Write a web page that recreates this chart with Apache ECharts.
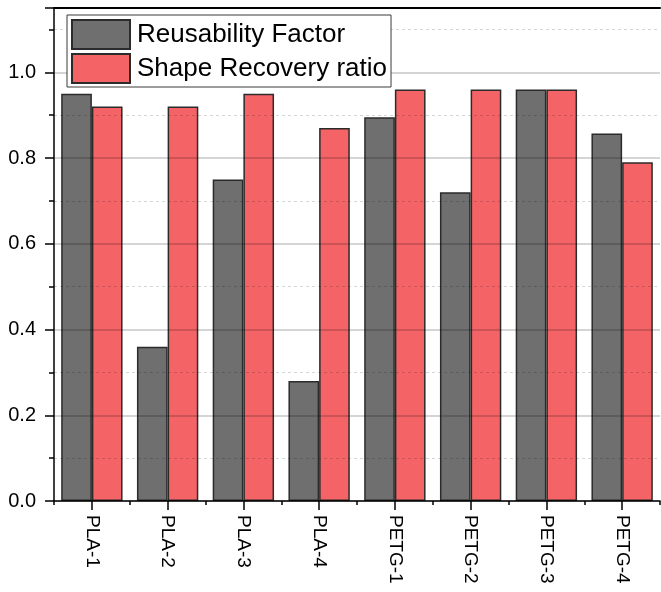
<!DOCTYPE html>
<html>
<head>
<meta charset="utf-8">
<title>Reusability Factor and Shape Recovery ratio</title>
<script src="https://cdn.jsdelivr.net/npm/echarts@6/dist/echarts.min.js"></script>
<style>
  html, body { margin: 0; padding: 0; background: #fff; }
  #chart { width: 661px; height: 592px; }
</style>
</head>
<body>
<div id="chart"></div>
<script>
// Samples and measured ratios
const categories = ['PLA-1', 'PLA-2', 'PLA-3', 'PLA-4', 'PETG-1', 'PETG-2', 'PETG-3', 'PETG-4'];
const reusabilityFactor = [0.95, 0.36, 0.75, 0.28, 0.895, 0.72, 0.96, 0.857];
const shapeRecoveryRatio = [0.92, 0.92, 0.95, 0.87, 0.96, 0.96, 0.96, 0.79];
const seriesNames = ['Reusability Factor', 'Shape Recovery ratio'];
const yMin = 0, yMax = 1.15, yMajor = 0.2, yMinor = 0.1;

const FONT = '"Liberation Sans", Arial, sans-serif';
const chart = echarts.init(document.getElementById('chart'), null, { renderer: 'canvas' });

const barBorder = { borderColor: '#2b2b2b', borderWidth: 1.5 };

chart.setOption({
  animation: false,
  backgroundColor: '#ffffff',
  grid: { left: 54, right: 1, top: 8, bottom: 91, containLabel: false },
  legend: {
    orient: 'vertical',
    left: 67,
    top: 15,
    icon: 'rect',
    itemWidth: 58,
    itemHeight: 29,
    itemGap: 3,
    padding: [4, 4, 3, 4],
    backgroundColor: '#ffffff',
    borderColor: '#3a3a3a',
    borderWidth: 1,
    z: 10,
    textStyle: { fontFamily: FONT, fontSize: 26, lineHeight: 29, color: '#000', padding: [0, 0, 0, 2] },
    data: seriesNames
  },
  xAxis: [
    {
      type: 'category',
      position: 'bottom',
      data: categories,
      boundaryGap: true,
      axisLine: { show: true, lineStyle: { color: '#000', width: 1.5 } },
      axisTick: { show: true, alignWithLabel: true, length: 9, lineStyle: { color: '#000', width: 1.5 } },
      axisLabel: {
        rotate: -90,
        margin: 14,
        fontFamily: FONT,
        fontSize: 19,
        color: '#000'
      },
      splitLine: { show: false },
      z: 3
    },
    {
      // short ticks on the category boundaries
      type: 'category',
      position: 'bottom',
      data: categories,
      boundaryGap: true,
      axisLine: { show: false },
      axisTick: { show: true, length: 4, lineStyle: { color: '#000', width: 1.5 } },
      axisLabel: { show: false },
      splitLine: { show: false },
      z: 3
    },
    {
      // top frame line
      type: 'category',
      position: 'top',
      data: categories,
      axisLine: { show: true, lineStyle: { color: '#000', width: 2 } },
      axisTick: { show: false },
      axisLabel: { show: false },
      splitLine: { show: false },
      z: 3
    }
  ],
  yAxis: [
    {
      // major ticks, labels and solid grid lines
      type: 'value',
      position: 'left',
      min: yMin,
      max: yMax,
      interval: yMajor,
      axisLine: { show: true, lineStyle: { color: '#000', width: 1.5 } },
      axisTick: { show: true, length: 9, lineStyle: { color: '#000', width: 1.5 } },
      axisLabel: {
        margin: 18,
        fontFamily: FONT,
        fontSize: 20,
        color: '#000',
        formatter: v => (v <= 1.0001 ? v.toFixed(1) : '')
      },
      splitLine: { show: true, lineStyle: { color: 'rgba(0,0,0,0.22)', width: 1.5, type: 'solid' } },
      z: 3
    },
    {
      // minor ticks and dashed grid lines in between
      type: 'value',
      position: 'left',
      min: yMin,
      max: yMax,
      interval: yMinor,
      axisLine: { show: false },
      axisTick: { show: true, length: 5, lineStyle: { color: '#000', width: 1.5 } },
      axisLabel: { show: false },
      splitLine: {
        show: true,
        lineStyle: { color: ['rgba(0,0,0,0)', 'rgba(0,0,0,0.16)'], width: 1, type: [3, 3] }
      },
      z: 3
    }
  ],
  series: [
    {
      name: seriesNames[0],
      type: 'bar',
      xAxisIndex: 0,
      yAxisIndex: 0,
      data: reusabilityFactor,
      barGap: '0%',
      barCategoryGap: '19%',
      itemStyle: Object.assign({ color: '#6f6f6f' }, barBorder),
      z: 2
    },
    {
      name: seriesNames[1],
      type: 'bar',
      xAxisIndex: 0,
      yAxisIndex: 0,
      data: shapeRecoveryRatio,
      barGap: '0%',
      barCategoryGap: '19%',
      itemStyle: Object.assign({ color: '#f46467' }, barBorder),
      z: 2
    }
  ]
});
</script>
</body>
</html>
